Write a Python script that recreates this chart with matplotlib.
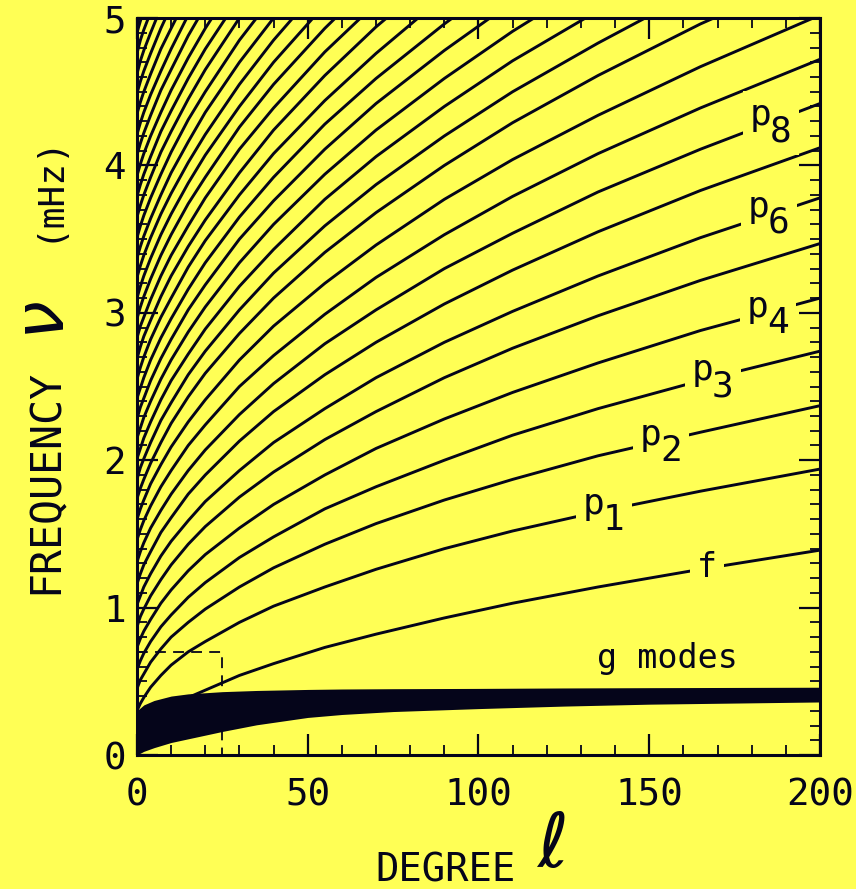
import numpy as np
import matplotlib
matplotlib.use("Agg")
import matplotlib.pyplot as plt

# ridge frequencies (mHz) at these degrees
degree = [0, 1, 2, 4, 7, 10, 15, 20, 30, 40, 55, 70, 90, 110, 135, 165, 200]

f_mode = [0.07, 0.12, 0.15, 0.21, 0.27, 0.32, 0.39, 0.44, 0.54, 0.62, 0.73, 0.82, 0.93, 1.03, 1.14, 1.26, 1.39]
p1 = [0.30, 0.35, 0.39, 0.46, 0.54, 0.61, 0.70, 0.77, 0.90, 1.01, 1.14, 1.26, 1.40, 1.52, 1.65, 1.79, 1.94]
p2 = [0.45, 0.51, 0.55, 0.63, 0.72, 0.80, 0.90, 0.99, 1.14, 1.27, 1.43, 1.57, 1.73, 1.87, 2.03, 2.19, 2.37]
p3 = [0.58, 0.64, 0.69, 0.77, 0.87, 0.95, 1.07, 1.17, 1.34, 1.48, 1.67, 1.82, 2.00, 2.17, 2.35, 2.54, 2.74]
p4 = [0.73, 0.79, 0.84, 0.92, 1.03, 1.12, 1.25, 1.36, 1.54, 1.70, 1.90, 2.08, 2.28, 2.46, 2.66, 2.88, 3.10]
p5 = [0.87, 0.94, 0.99, 1.08, 1.19, 1.29, 1.43, 1.55, 1.75, 1.92, 2.14, 2.33, 2.56, 2.76, 2.98, 3.22, 3.47]
p6 = [1.02, 1.08, 1.14, 1.23, 1.35, 1.45, 1.59, 1.72, 1.93, 2.12, 2.35, 2.56, 2.80, 3.01, 3.25, 3.51, 3.78]
p7 = [1.16, 1.23, 1.29, 1.38, 1.51, 1.61, 1.77, 1.90, 2.13, 2.33, 2.58, 2.80, 3.06, 3.29, 3.55, 3.83, 4.12]
p8 = [1.31, 1.38, 1.44, 1.54, 1.66, 1.77, 1.93, 2.07, 2.31, 2.52, 2.79, 3.02, 3.30, 3.54, 3.82, 4.11, 4.42]
p9 = [1.46, 1.53, 1.59, 1.69, 1.82, 1.93, 2.10, 2.24, 2.50, 2.71, 2.99, 3.24, 3.53, 3.79, 4.08, 4.39, 4.72]
p10 = [1.60, 1.67, 1.73, 1.84, 1.97, 2.09, 2.26, 2.41, 2.68, 2.91, 3.20, 3.46, 3.77, 4.04, 4.34, 4.67, 5.02]
p11 = [1.74, 1.81, 1.87, 1.98, 2.12, 2.25, 2.43, 2.59, 2.86, 3.10, 3.41, 3.68, 4.00, 4.29, 4.61, 4.96, 5.32]
p12 = [1.87, 1.95, 2.01, 2.12, 2.27, 2.39, 2.58, 2.74, 3.02, 3.27, 3.59, 3.87, 4.20, 4.50, 4.83, 5.20]
p13 = [2.01, 2.08, 2.15, 2.26, 2.41, 2.54, 2.72, 2.89, 3.18, 3.43, 3.77, 4.06, 4.40, 4.71, 5.05]
p14 = [2.15, 2.22, 2.29, 2.40, 2.55, 2.68, 2.87, 3.04, 3.34, 3.60, 3.94, 4.24, 4.59, 4.91, 5.27]
p15 = [2.28, 2.36, 2.42, 2.54, 2.69, 2.82, 3.02, 3.19, 3.50, 3.76, 4.11, 4.42, 4.78, 5.11]
p16 = [2.42, 2.49, 2.56, 2.68, 2.83, 2.96, 3.16, 3.34, 3.65, 3.92, 4.28, 4.59, 4.96, 5.30]
p17 = [2.55, 2.63, 2.70, 2.82, 2.97, 3.10, 3.31, 3.49, 3.80, 4.08, 4.44, 4.76, 5.15]
p18 = [2.69, 2.77, 2.84, 2.95, 3.11, 3.25, 3.45, 3.63, 3.95, 4.24, 4.61, 4.94, 5.33]
p19 = [2.83, 2.91, 2.97, 3.09, 3.25, 3.39, 3.59, 3.78, 4.11, 4.39, 4.77, 5.10]
p20 = [2.96, 3.04, 3.11, 3.23, 3.39, 3.53, 3.74, 3.92, 4.26, 4.55, 4.93, 5.27]
p21 = [3.10, 3.18, 3.25, 3.37, 3.53, 3.67, 3.88, 4.07, 4.40, 4.70, 5.09]
p22 = [3.24, 3.32, 3.39, 3.51, 3.67, 3.81, 4.02, 4.21, 4.55, 4.85, 5.25]
p23 = [3.37, 3.45, 3.52, 3.64, 3.80, 3.95, 4.16, 4.36, 4.70, 5.00]
p24 = [3.51, 3.59, 3.66, 3.78, 3.94, 4.09, 4.31, 4.50, 4.85, 5.15]
p25 = [3.65, 3.73, 3.80, 3.92, 4.09, 4.23, 4.45, 4.65, 5.00, 5.31]
p26 = [3.79, 3.87, 3.94, 4.06, 4.23, 4.37, 4.59, 4.79, 5.14]
p27 = [3.93, 4.01, 4.08, 4.20, 4.36, 4.51, 4.73, 4.93, 5.29]
p28 = [4.07, 4.15, 4.22, 4.34, 4.51, 4.65, 4.88, 5.08]
p29 = [4.21, 4.29, 4.36, 4.48, 4.64, 4.79, 5.02]
p30 = [4.35, 4.43, 4.50, 4.62, 4.79, 4.93, 5.16]
p31 = [4.49, 4.57, 4.64, 4.76, 4.93, 5.08]
p32 = [4.62, 4.71, 4.78, 4.90, 5.07]
p33 = [4.76, 4.85, 4.92, 5.04]
p34 = [4.90, 4.98, 5.05]

ridges = [f_mode, p1, p2, p3, p4, p5, p6, p7, p8, p9, p10, p11, p12, p13,
          p14, p15, p16, p17, p18, p19, p20, p21, p22, p23, p24, p25, p26,
          p27, p28, p29, p30, p31, p32, p33, p34]

# g-mode band edges
band_degree = [0, 2, 5, 10, 15, 25, 35, 50, 60, 75, 100, 125, 150, 200]
band_low = [0.0, 0.025, 0.05, 0.085, 0.11, 0.16, 0.205, 0.255, 0.275, 0.295, 0.315, 0.332, 0.345, 0.36]
band_high = [0.30, 0.34, 0.37, 0.40, 0.415, 0.43, 0.438, 0.445, 0.448, 0.45, 0.452, 0.455, 0.457, 0.46]

p_orders = ["8", "6", "4", "3", "2", "1"]
p_label_l = [182.7, 182.1, 181.8, 165.7, 150.5, 133.8]
p_label_nu = [4.34, 3.72, 3.04, 2.61, 2.17, 1.705]
other_labels = ["f", "g modes"]
other_l = [166.9, 155.2]
other_nu = [1.27, 0.652]

ink = "#05051a"
bg = "#ffff55"
mono = "DejaVu Sans Mono"

fig = plt.figure(figsize=(8.56, 8.89), dpi=100)
fig.patch.set_facecolor(bg)
ax = fig.add_axes([0.160, 0.1507, 0.7979, 0.8290])
ax.set_facecolor(bg)

for nu in ridges:
    ax.plot(degree[:len(nu)], nu, color=ink, lw=2.1)
ax.fill_between(band_degree, band_low, band_high, color=ink, lw=0, zorder=3)
ax.plot([0, 25, 25], [0.7, 0.7, 0], color=ink, lw=1.3, ls=(0, (6, 4)))


def label(x, y, s, size, offset=(0, 0)):
    # yellow patch first so the ridge is broken, then the ink on top
    for col, z, bb in ((bg, 3, dict(fc=bg, ec="none", pad=5)), (ink, 5, None)):
        ax.annotate(s, (x, y), xytext=offset, textcoords="offset points",
                    fontsize=size, family=mono, color=col, ha="center",
                    va="center", zorder=z, bbox=bb)


for d, x, y in zip(p_orders, p_label_l, p_label_nu):
    label(x, y, "p", 26)
    label(x, y, d, 26, offset=(14.5, -11.5))
for s, x, y in zip(other_labels, other_l, other_nu):
    label(x, y, s, 24)

ax.set_xlim(0, 200)
ax.set_ylim(0, 5)
ax.set_xticks([0, 50, 100, 150, 200])
ax.set_xticks(np.arange(0, 201, 10), minor=True)
ax.set_yticks([0, 1, 2, 3, 4, 5])
ax.set_yticks(np.arange(0, 5.01, 0.1), minor=True)
ax.tick_params(which="both", direction="in", top=True, right=True, colors=ink,
               labelsize=27)
ax.tick_params(axis="x", pad=16)
ax.tick_params(axis="y", pad=8)
ax.tick_params(which="major", length=15, width=1.6)
ax.tick_params(which="minor", length=7, width=1.3)
for t in ax.get_xticklabels() + ax.get_yticklabels():
    t.set_family(mono)
for sp in ax.spines.values():
    sp.set_linewidth(2.2)
    sp.set_color(ink)

fig.text(0.053, 0.458, "FREQUENCY", rotation=90, ha="center", va="center",
         fontsize=30, family=mono, color=ink)
fig.text(0.052, 0.64, r"$\nu$", rotation=90, ha="center", va="center",
         fontsize=50, color=ink)
fig.text(0.055, 0.789, "(mHz)", rotation=90, ha="center", va="center",
         fontsize=26, family=mono, color=ink)
fig.text(0.52, 0.021, "DEGREE", ha="center", va="center",
         fontsize=28, family=mono, color=ink)
fig.text(0.643, 0.048, r"$\ell$", ha="center", va="center",
         fontsize=54, color=ink)

fig.savefig("out.png", facecolor=bg)
